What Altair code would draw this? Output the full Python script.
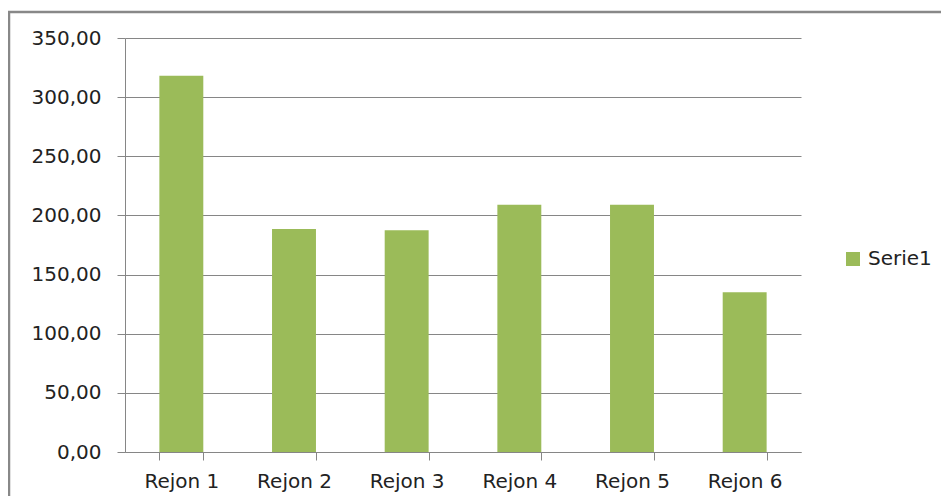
import altair as alt
import pandas as pd

categories = ["Rejon 1", "Rejon 2", "Rejon 3", "Rejon 4", "Rejon 5", "Rejon 6"]
values = [318.0, 188.5, 187.5, 209.0, 209.0, 135.0]
series_name = "Serie1"
y_ticks = [0, 50, 100, 150, 200, 250, 300, 350]

df = pd.DataFrame({"region": categories, "value": values, "series": [series_name] * len(categories)})

W, H = 676, 414
FONT = "DejaVu Sans"
GRID = "#868686"
TEXT = "#222222"
FS = 20

bars = alt.Chart(df).mark_bar(color="#9BBB59").encode(
    x=alt.X("region:N", sort=categories, title=None,
            scale=alt.Scale(paddingInner=0.61, paddingOuter=0.305),
            axis=alt.Axis(labelAngle=0, tickBand="extent", tickSize=8, tickColor=GRID,
                          domainColor=GRID, labelPadding=11, labelFont=FONT,
                          labelFontSize=FS, labelColor=TEXT, grid=False)),
    y=alt.Y("value:Q", title=None,
            scale=alt.Scale(domain=[0, 350], nice=False),
            axis=alt.Axis(values=y_ticks, grid=True, gridColor=GRID, tickSize=8, tickColor=GRID,
                          domainColor=GRID, labelPadding=16, labelFont=FONT, labelFontSize=FS,
                          labelColor=TEXT,
                          labelExpr="replace(format(datum.value, '.2f'), '.', ',')")),
    color=alt.Color("series:N", title=None,
                    scale=alt.Scale(range=["#9BBB59"]),
                    legend=alt.Legend(orient="none", legendX=718, legendY=211, symbolType="square",
                                      symbolSize=196, symbolStrokeWidth=0, labelFont=FONT,
                                      labelFontSize=FS, labelColor=TEXT, labelOffset=5)),
)

border = alt.Chart(pd.DataFrame({"a": [0]})).mark_rect(
    fill=None, stroke="#888888", strokeWidth=2.5
).encode(
    x=alt.value(-116), x2=alt.value(W + 200),
    y=alt.value(-26), y2=alt.value(H + 100),
)

chart = alt.layer(bars, border).properties(
    width=W, height=H,
    background="white",
    autosize=alt.AutoSizeParams(type="none"),
    padding={"left": 117, "top": 30, "right": 140, "bottom": 44},
).configure_view(stroke=None, strokeWidth=0)

chart.save("out.html", embed_options={"renderer": "svg", "actions": False})
